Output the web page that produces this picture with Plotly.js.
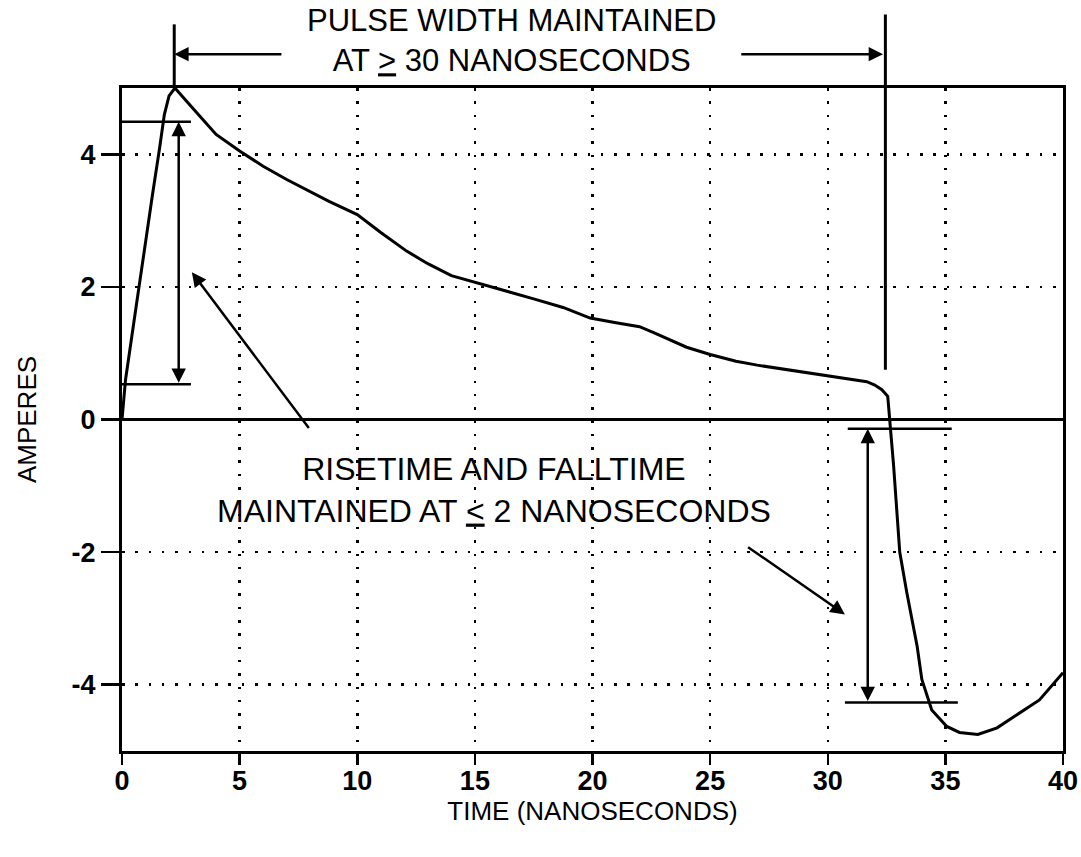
<!DOCTYPE html>
<html>
<head>
<meta charset="utf-8">
<script src="https://cdn.plot.ly/plotly-3.0.1.min.js"></script>
<style>html,body{margin:0;padding:0;background:#fff;}</style>
</head>
<body>
<div id="chart" style="width:1081px;height:857px;"></div>
<script>
// ---- data ----
const timeNs = [0, 0.15, 0.6, 1.0, 1.3, 1.6, 1.8, 2.0, 2.25,
  3.0, 4.0, 5.0, 6.0, 7.0, 8.0, 8.8, 10.0, 11.0, 12.1, 13.0, 14.0, 15.0,
  16.5, 17.5, 18.75, 19.9, 21.0, 22.0, 22.6, 23.3, 24.0, 25.0, 26.1, 27.0,
  28.3, 30.0, 31.0, 31.66, 32.0, 32.3, 32.55,
  32.64, 32.8, 33.06, 33.36, 33.8, 34.0, 34.42, 35.06, 35.6, 36.38, 37.2,
  38.2, 39.0, 40.0];
const amperes = [0, 0.6, 1.7, 2.7, 3.4, 4.1, 4.6, 4.88, 5.0,
  4.7, 4.3, 4.05, 3.82, 3.62, 3.43, 3.29, 3.09, 2.82, 2.54, 2.35, 2.17, 2.07,
  1.93, 1.82, 1.69, 1.53, 1.46, 1.40, 1.31, 1.2, 1.09, 0.98, 0.88, 0.82,
  0.75, 0.66, 0.61, 0.57, 0.52, 0.45, 0.35,
  0, -0.7, -2.0, -2.61, -3.42, -3.92, -4.38, -4.63, -4.72, -4.75, -4.65,
  -4.42, -4.23, -3.82];

const xTickVals = [0, 5, 10, 15, 20, 25, 30, 35, 40];
const xTickText = ['0', '5', '10', '15', '20', '25', '30', '35', '40'];
const yTickVals = [-4, -2, 0, 2, 4];
const yTickText = ['-4', '-2', '0', '2', '4'];

const xTitle = 'TIME (NANOSECONDS)';
const yTitle = 'AMPERES';
const pulseNote = 'PULSE WIDTH MAINTAINED<br>AT <u>&gt;</u> 30 NANOSECONDS';
const riseNote = 'RISETIME AND FALLTIME<br>MAINTAINED AT <u>&lt;</u> 2 NANOSECONDS';

// annotation geometry in data units (time ns, amperes)
const pulseStart = 2.22, pulseEnd = 32.45;   // vertical markers
const pulseArrowY = 5.51;
const pulseTopLeft = 5.96, pulseTopRight = 6.11, pulseBottomRight = 0.75;
const pulseArrowTailL = 6.84, pulseArrowTailR = 26.26;
const riseLevels = [4.49, 0.53];   const riseSpan = [0, 2.93]; const riseArrowX = 2.41;
const fallLevels = [-0.14, -4.27]; const fallSpanTop = [30.85, 35.27]; const fallSpanBot = [30.73, 35.53]; const fallArrowX = 31.7;
const pointerA = {tail: [7.99, -0.15], tip: [2.97, 2.22]};
const pointerB = {tail: [26.55, -1.91], tip: [30.73, -2.94]};

// ---- layout helpers ----
const W = 1081, H = 857;
const M = {l: 122, r: 18, t: 88, b: 106};
const xr = [0, 40], yr = [-5, 5];
const pxPerX = (W - M.l - M.r) / (xr[1] - xr[0]);
const px = t => (t - xr[0]) / (xr[1] - xr[0]);
const py = a => (a - yr[0]) / (yr[1] - yr[0]);

const FONT = 'Liberation Sans, Arial, Helvetica, sans-serif';
const K = '#000';

const trace = {
  x: timeNs, y: amperes, type: 'scatter', mode: 'lines',
  line: {color: K, width: 3}, hoverinfo: 'skip', showlegend: false
};

function seg(x0, y0, x1, y1, w) {
  return {type: 'line', xref: 'paper', yref: 'paper',
    x0: px(x0), y0: py(y0), x1: px(x1), y1: py(y1),
    line: {color: K, width: w || 2.5}, layer: 'above'};
}

const shapes = [
  seg(pulseStart, 5, pulseStart, pulseTopLeft, 3),
  seg(pulseEnd, pulseBottomRight, pulseEnd, pulseTopRight, 3),
  seg(riseSpan[0], riseLevels[0], riseSpan[1], riseLevels[0]),
  seg(riseSpan[0], riseLevels[1], riseSpan[1], riseLevels[1]),
  seg(fallSpanTop[0], fallLevels[0], fallSpanTop[1], fallLevels[0]),
  seg(fallSpanBot[0], fallLevels[1], fallSpanBot[1], fallLevels[1])
];

const arrowStyle = {showarrow: true, arrowhead: 2, arrowsize: 1.15, arrowwidth: 2.5,
  arrowcolor: K, text: '', standoff: 0, startstandoff: 0};

const annotations = [
  Object.assign({}, arrowStyle, {xref: 'paper', yref: 'paper',
    x: px(pulseStart), y: py(pulseArrowY), axref: 'pixel', ayref: 'pixel',
    ax: (pulseArrowTailL - pulseStart) * pxPerX, ay: 0}),
  Object.assign({}, arrowStyle, {xref: 'paper', yref: 'paper',
    x: px(pulseEnd - 0.1), y: py(pulseArrowY), axref: 'pixel', ayref: 'pixel',
    ax: (pulseArrowTailR - pulseEnd + 0.1) * pxPerX, ay: 0}),
  Object.assign({}, arrowStyle, {xref: 'x', yref: 'y', axref: 'x', ayref: 'y',
    x: riseArrowX, y: riseLevels[0], ax: riseArrowX, ay: riseLevels[1], arrowside: 'end+start'}),
  Object.assign({}, arrowStyle, {xref: 'x', yref: 'y', axref: 'x', ayref: 'y',
    x: fallArrowX, y: fallLevels[0], ax: fallArrowX, ay: fallLevels[1], arrowside: 'end+start'}),
  Object.assign({}, arrowStyle, {xref: 'x', yref: 'y', axref: 'x', ayref: 'y',
    x: pointerA.tip[0], y: pointerA.tip[1], ax: pointerA.tail[0], ay: pointerA.tail[1]}),
  Object.assign({}, arrowStyle, {xref: 'x', yref: 'y', axref: 'x', ayref: 'y',
    x: pointerB.tip[0], y: pointerB.tip[1], ax: pointerB.tail[0], ay: pointerB.tail[1]}),
  {xref: 'paper', yref: 'paper', x: px(16.54), y: py(5.72), showarrow: false,
    text: pulseNote, xanchor: 'center', yanchor: 'middle', align: 'center',
    font: {family: FONT, size: 31, color: K}},
  {xref: 'x', yref: 'y', x: 15.8, y: -1.07, showarrow: false,
    text: riseNote, xanchor: 'center', yanchor: 'middle', align: 'center',
    font: {family: FONT, size: 32, color: K}}
];

const axisCommon = {
  showline: true, linecolor: K, linewidth: 3, mirror: true,
  ticks: 'outside', tickcolor: K, tickwidth: 2.5,
  showgrid: true, gridcolor: K, gridwidth: 2.5, griddash: '2.5px,10.8px',
  tickfont: {family: FONT, size: 27, color: K, weight: 'bold'},
  fixedrange: true
};

const layout = {
  width: W, height: H,
  margin: M,
  paper_bgcolor: '#fff', plot_bgcolor: '#fff',
  showlegend: false,
  xaxis: Object.assign({}, axisCommon, {
    range: xr, tickmode: 'array', tickvals: xTickVals, ticktext: xTickText,
    ticklen: 11, ticklabelstandoff: -7, zeroline: false,
    title: {text: xTitle, font: {family: FONT, size: 26, color: K}, standoff: 6}
  }),
  yaxis: Object.assign({}, axisCommon, {
    range: yr, tickmode: 'array', tickvals: yTickVals, ticktext: yTickText,
    ticklen: 18, zeroline: true, zerolinecolor: K, zerolinewidth: 3,
    title: {text: yTitle, font: {family: FONT, size: 26, color: K}, standoff: 28}
  }),
  shapes: shapes,
  annotations: annotations
};

Plotly.newPlot('chart', [trace], layout, {displayModeBar: false, staticPlot: true});
</script>
</body>
</html>
